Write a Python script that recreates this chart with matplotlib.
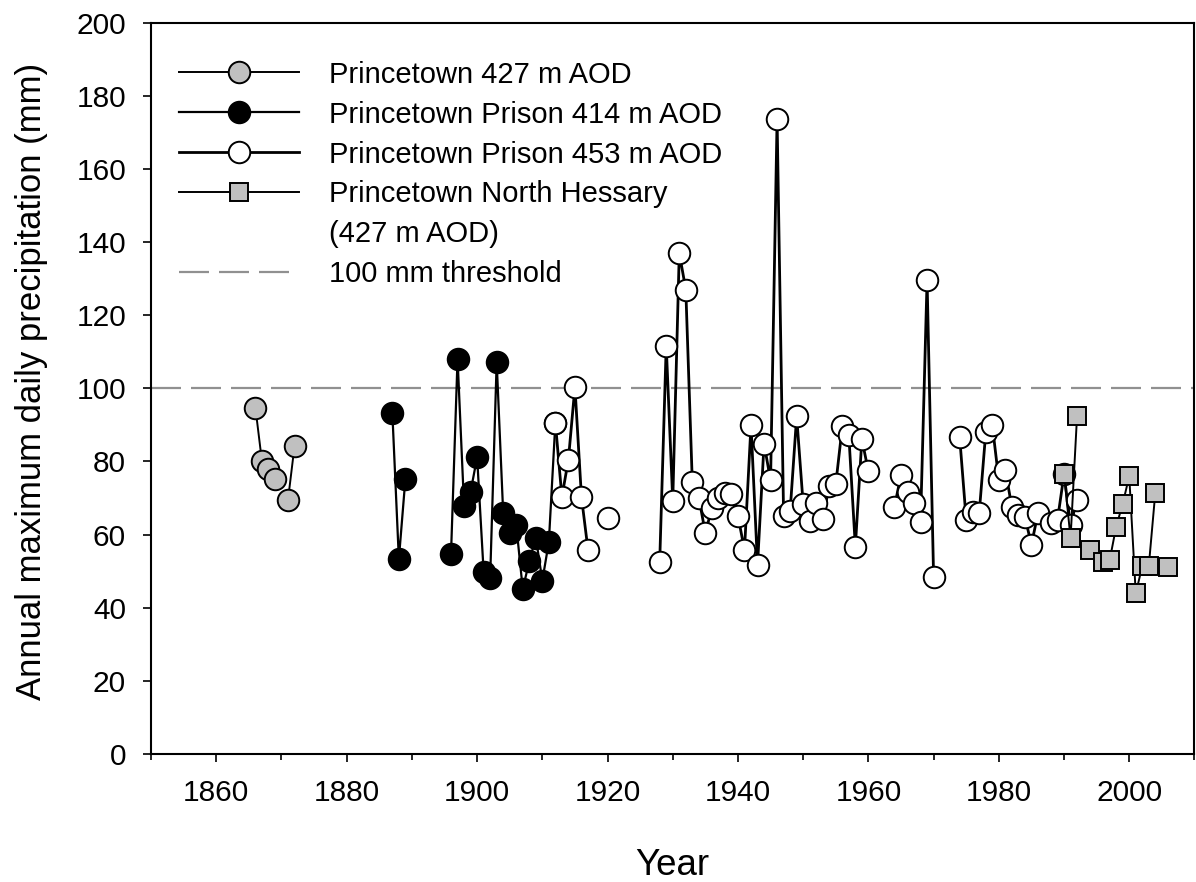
import numpy as np
import matplotlib
matplotlib.use("Agg")
import matplotlib.pyplot as plt
from matplotlib.lines import Line2D
from matplotlib.ticker import MultipleLocator

nan = np.nan

## Annual maximum daily precipitation

# Princetown 427 m AOD
grayYears = [1866, 1867, 1868, 1869, 1870, 1871, 1872]
grayVals = [94.7, 80.1, 77.8, 75.1, nan, 69.5, 84.2]

# Princetown Prison 414 m AOD (1912 sits under the first 453 m point)
blackYears = [1887, 1888, 1889, 1890,
              1896, 1897, 1898, 1899, 1900, 1901, 1902, 1903, 1904,
              1905, 1906, 1907, 1908, 1909, 1910, 1911, 1912]
blackVals = [93.3, 53.3, 75.2, nan,
             54.8, 108.1, 67.8, 71.7, 81.2, 49.8, 48.2, 107.2, 65.8,
             60.3, 62.6, 45.1, 52.7, 59.2, 47.4, 58.0, 90.6]

# Princetown Prison 453 m AOD
whiteYears = [1912, 1913, 1914, 1915, 1916, 1917, 1918,
              1920, 1921,
              1928, 1929, 1930, 1931, 1932, 1933, 1934, 1935, 1936, 1937,
              1938, 1939, 1940, 1941, 1942, 1943, 1944, 1945, 1946, 1947,
              1948, 1949, 1950, 1951, 1952, 1953, 1954, 1955, 1956, 1957,
              1958, 1959, 1960, 1961,
              1964, 1965, 1966, 1967, 1968, 1969, 1970, 1971,
              1974, 1975, 1976, 1977, 1978, 1979, 1980, 1981, 1982, 1983,
              1984, 1985, 1986, 1988, 1989, 1990, 1991, 1992]
whiteVals = [90.6, 70.3, 80.5, 100.4, 70.3, 55.9, nan,
             64.4, nan,
             52.6, 111.7, 69.2, 137.0, 127.0, 74.3, 70.1, 60.4, 67.3, 70.1,
             71.3, 71.1, 65.1, 55.8, 90.0, 51.7, 84.9, 74.8, 173.7, 65.1,
             66.4, 92.3, 68.3, 63.7, 68.7, 64.3, 73.4, 73.8, 89.6, 87.2,
             56.7, 86.1, 77.3, nan,
             67.6, 76.3, 71.6, 68.7, 63.5, 129.6, 48.5, nan,
             86.6, 64.0, 66.3, 66.0, 88.0, 90.0, 74.9, 77.7, 67.5, 65.4,
             64.9, 57.2, 65.8, 63.1, 64.0, 76.5, 62.6, 69.5]

# Princetown North Hessary (427 m AOD)
hessYears = [1990, 1991, 1992, 1993, 1994, 1995, 1996, 1997, 1998, 1999,
             2000, 2001, 2002, 2003, 2004, 2005, 2006]
hessVals = [76.7, 59.0, 92.5, nan, 55.8, nan, 52.6, 53.0, 62.2, 68.4,
            76.0, 43.9, 51.4, 51.4, 71.5, nan, 51.2]

threshold = 100

labels = ["Princetown 427 m AOD",
          "Princetown Prison 414 m AOD",
          "Princetown Prison 453 m AOD",
          "Princetown North Hessary",
          "(427 m AOD)",
          "100 mm threshold"]


def makePlot():
    plt.rcParams['font.family'] = ['Liberation Sans', 'DejaVu Sans']

    fig = plt.figure(figsize=(11.96, 8.82), dpi=100)
    ax = fig.add_axes([0.1263, 0.1451, 0.8724, 0.8293])

    mk = 15.5
    ew = 1.4
    thr = ax.axhline(threshold, color='#909090', lw=1.6,
                     ls=(0, (13.5, 4.5)), zorder=1)

    g, = ax.plot(grayYears, grayVals, '-o', color='black', lw=1.4,
                 mfc='#c0c0c0', mec='black', mew=ew, ms=mk, zorder=2)
    b, = ax.plot(blackYears, blackVals, '-o', color='black', lw=1.6,
                 mfc='black', mec='black', mew=ew, ms=mk, zorder=3)
    w, = ax.plot(whiteYears, whiteVals, '-o', color='black', lw=2.0,
                 mfc='white', mec='black', mew=ew, ms=mk, zorder=4)
    s, = ax.plot(hessYears, hessVals, '-s', color='black', lw=1.4,
                 mfc='#c0c0c0', mec='black', mew=ew, ms=13.5, zorder=5)

    ax.set_xlim(1850, 2010)
    ax.set_ylim(0, 200)
    ax.xaxis.set_minor_locator(MultipleLocator(10))
    ax.yaxis.set_major_locator(MultipleLocator(20))
    ax.set_xticks(np.arange(1860, 2001, 20))

    for sp in ax.spines.values():
        sp.set_linewidth(1.5)
    ax.tick_params(which='major', direction='out', length=6, width=1.2,
                   labelsize=21.5, pad=12)
    ax.tick_params(which='minor', direction='out', length=4, width=1.2)
    ax.tick_params(top=False, right=False)

    ax.set_xlabel("Year", fontsize=26.5)
    ax.xaxis.set_label_coords(0.5, -0.129)
    ax.set_ylabel("Annual maximum daily precipitation (mm)", fontsize=25)
    ax.yaxis.set_label_coords(-0.099, 0.51)

    blank = Line2D([], [], linestyle='none', marker='none')
    ax.legend([g, b, w, s, blank, thr], labels, loc='upper left',
              bbox_to_anchor=(0.027, 0.948), frameon=False,
              fontsize=21, handlelength=4.1, handletextpad=1.03,
              labelspacing=0.41, borderpad=0, borderaxespad=0)

    fig.savefig("out.png", dpi=100)


if (__name__ == "__main__"):
    makePlot()
